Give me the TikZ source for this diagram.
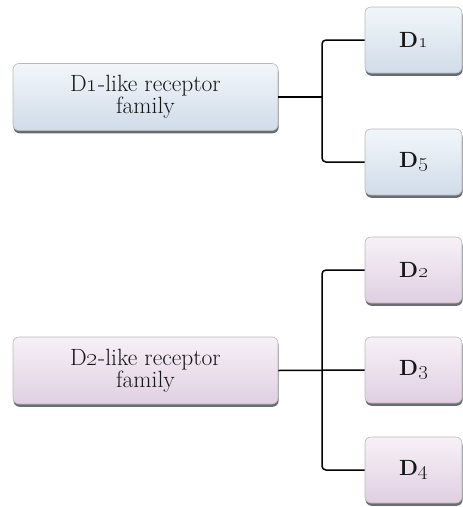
\documentclass[tikz,border=0pt]{standalone}
\usetikzlibrary{shadows}
\definecolor{bluetop}{HTML}{F2F6FA}
\definecolor{bluebot}{HTML}{D0DCE9}
\definecolor{pinktop}{HTML}{F7F0F7}
\definecolor{pinkbot}{HTML}{E0D0E2}
\definecolor{edgegray}{HTML}{6A6C74}
\definecolor{inkcol}{HTML}{161616}
\tikzset{
  card/.style={rounded corners=6pt, draw=gray!55, line width=0.6pt,
    drop shadow={shadow xshift=0.6pt, shadow yshift=-2.8pt, fill=edgegray, opacity=1},
    text=inkcol, align=center, inner sep=0pt},
  bluecard/.style={card, top color=bluetop, bottom color=bluebot},
  pinkcard/.style={card, top color=pinktop, bottom color=pinkbot},
  famcard/.style={minimum width=265pt, minimum height=67pt,
    font=\fontsize{23.5}{23}\selectfont},
  subcard/.style={minimum width=97pt, minimum height=66pt,
    font=\fontsize{22}{24}\selectfont\bfseries},
  conn/.style={draw=black, line width=1.5pt, rounded corners=4pt}
}
\begin{document}
\begin{tikzpicture}[x=1pt,y=-1pt]
  \useasboundingbox (0,0) rectangle (463,507);

  % D1-like family
  \node[bluecard, famcard] (fam1) at (145.5,97) {\raisebox{-2pt}{D\oldstylenums{1}-like receptor}\\family};
  \node[bluecard, subcard] (d1) at (413.5,40) {\raisebox{-3pt}{D\oldstylenums{1}}};
  \node[bluecard, subcard] (d5) at (413.5,162) {\raisebox{-3pt}{D\oldstylenums{5}}};
  \coordinate (j1) at (322,97);
  \draw[conn] (fam1.east) -- (j1);
  \draw[conn] (d1.west) -| (j1) |- (d5.west);

  % D2-like family
  \node[pinkcard, famcard] (fam2) at (145.5,370.5) {\raisebox{-2pt}{D\oldstylenums{2}-like receptor}\\family};
  \node[pinkcard, subcard] (d2) at (413.5,270) {\raisebox{-3pt}{D\oldstylenums{2}}};
  \node[pinkcard, subcard] (d3) at (413.5,370) {\raisebox{-3pt}{D\oldstylenums{3}}};
  \node[pinkcard, subcard] (d4) at (413.5,470) {\raisebox{-3pt}{D\oldstylenums{4}}};
  \coordinate (j2) at (322,370.5);
  \draw[conn] (fam2.east) -- (d3.west);
  \draw[conn] (d2.west) -| (j2) |- (d4.west);
\end{tikzpicture}
\end{document}
